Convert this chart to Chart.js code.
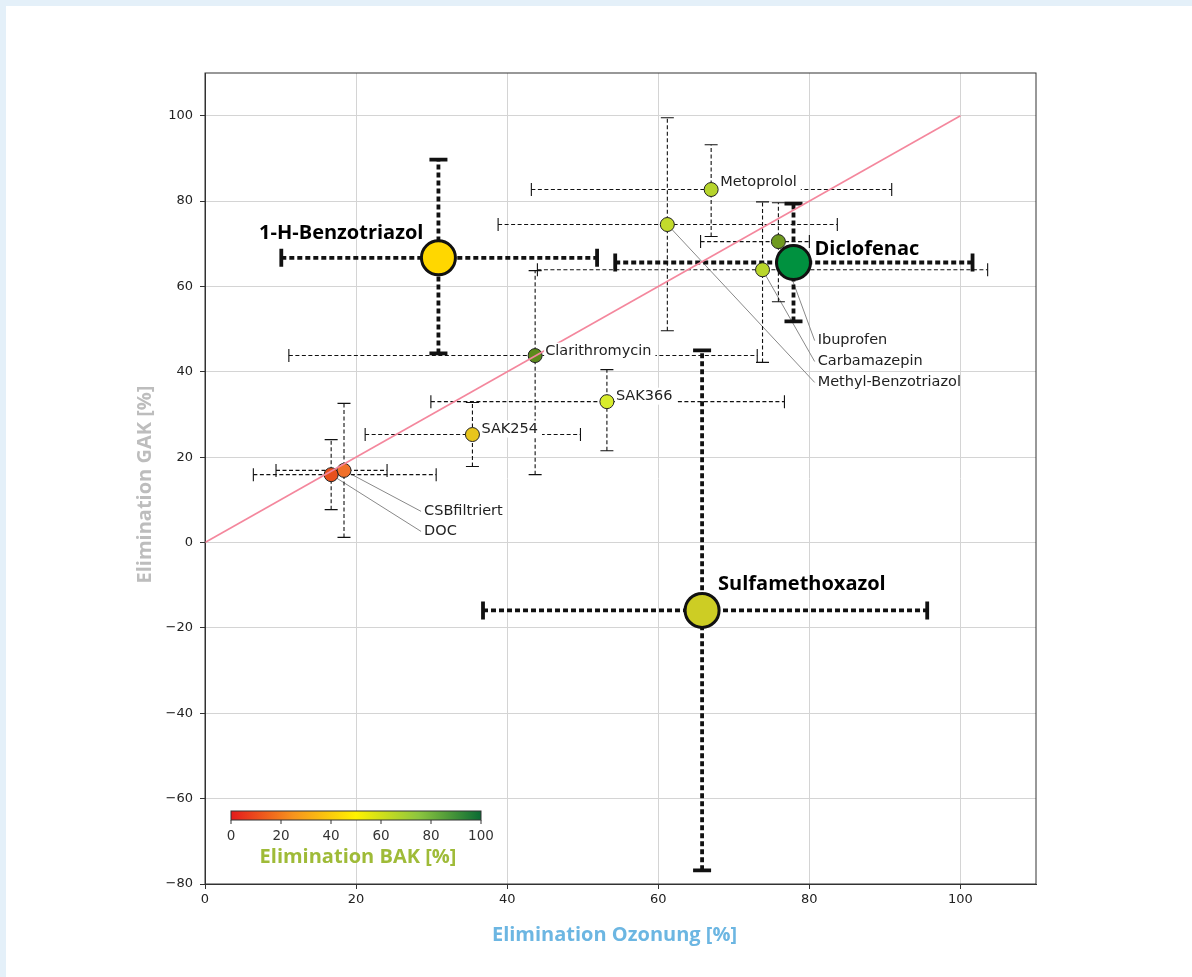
<!DOCTYPE html>
<html>
<head>
<meta charset="utf-8">
<script src="https://cdn.jsdelivr.net/npm/chart.js@4/dist/chart.umd.min.js"></script>
<style>
  body { margin: 0; background: #e4f0f9; }
  #panel { position: absolute; left: 6px; top: 6px; right: 0; bottom: 0; background: #fff; }
  #wrap { position: absolute; left: 0; top: 0; width: 1192px; height: 977px; }
</style>
</head>
<body>
<div id="panel"></div>
<div id="wrap"><canvas id="chart"></canvas></div>
<script>
// small substances (Ozonung x, GAK y, error ranges)
const names = ["Metoprolol", "Methyl-Benzotriazol", "Ibuprofen", "Carbamazepin", "Clarithromycin", "SAK366", "SAK254", "CSBfiltriert", "DOC"];
const ozon = [67.0, 61.2, 75.9, 73.8, 43.7, 53.2, 35.4, 18.4, 16.7];
const gak = [82.7, 74.5, 70.5, 63.9, 43.8, 33.0, 25.3, 16.9, 15.9];
const ozonLow = [43.2, 38.8, 65.6, 44.0, 11.1, 29.9, 21.2, 9.4, 6.4];
const ozonHigh = [90.9, 83.7, 80.0, 103.6, 73.1, 76.7, 49.7, 24.1, 30.6];
const gakLow = [71.7, 49.6, 56.4, 42.2, 15.9, 21.5, 17.8, 1.2, 7.7];
const gakHigh = [93.2, 99.5, 79.6, 79.8, 63.7, 40.5, 32.8, 32.6, 24.1];
const pointColors = ["#b6d42c", "#c2da2c", "#6f9a1f", "#b9d62a", "#5c8a1c", "#d8ec2c", "#e8c51c", "#f0702a", "#e8501c"];

// highlighted substances
const bigNames = ["1-H-Benzotriazol", "Diclofenac", "Sulfamethoxazol"];
const bigOzon = [30.9, 77.9, 65.8];
const bigGak = [66.7, 65.6, -15.9];
const bigOzonLow = [10.1, 54.3, 36.8];
const bigOzonHigh = [51.9, 101.6, 95.6];
const bigGakLow = [44.3, 51.8, -76.8];
const bigGakHigh = [89.7, 79.4, 45.0];
const bigColors = ["#ffd700", "#00913f", "#cdcd24"];

const xTicks = [0, 20, 40, 60, 80, 100];
const barTicks = [0, 20, 40, 60, 80, 100];

// label placement: pixel offsets for direct labels, data anchors for leader labels
const directLabels = { "Metoprolol": [9, -7], "Clarithromycin": [10, -4], "SAK366": [9, -5], "SAK254": [9, -5] };
const leaderLabels = {
  "Ibuprofen": [81.1, 47.3], "Carbamazepin": [81.1, 42.4], "Methyl-Benzotriazol": [81.1, 37.5],
  "CSBfiltriert": [29.0, 7.3], "DOC": [29.0, 2.6]
};
const bigLabelPos = [[-15, -25, "right"], [21, -13, "left"], [16, -26, "left"]];

function drawErrors(ctx, xs, ys, xl, xh, yl, yh, sx, sy, big) {
  ctx.save();
  ctx.strokeStyle = "#111";
  const cap = big ? 9 : 6.5;
  for (let i = 0; i < xs.length; i++) {
    const px = sx.getPixelForValue(xs[i]), py = sy.getPixelForValue(ys[i]);
    const x1 = sx.getPixelForValue(xl[i]), x2 = sx.getPixelForValue(xh[i]);
    const y1 = sy.getPixelForValue(yl[i]), y2 = sy.getPixelForValue(yh[i]);
    ctx.lineWidth = big ? 3.8 : 1.1;
    ctx.setLineDash(big ? [5, 3] : [4, 2.5]);
    ctx.beginPath();
    ctx.moveTo(x1, py); ctx.lineTo(x2, py);
    ctx.moveTo(px, y1); ctx.lineTo(px, y2);
    ctx.stroke();
    ctx.setLineDash([]);
    ctx.lineWidth = big ? 3.8 : 1.1;
    ctx.beginPath();
    ctx.moveTo(x1, py - cap); ctx.lineTo(x1, py + cap);
    ctx.moveTo(x2, py - cap); ctx.lineTo(x2, py + cap);
    ctx.moveTo(px - cap, y1); ctx.lineTo(px + cap, y1);
    ctx.moveTo(px - cap, y2); ctx.lineTo(px + cap, y2);
    ctx.stroke();
  }
  ctx.restore();
}

const extras = {
  id: "extras",
  beforeDatasetsDraw(chart) {
    const { ctx, scales: { x, y } } = chart;
    // leader lines
    ctx.save();
    ctx.strokeStyle = "#888";
    ctx.lineWidth = 1;
    names.forEach((n, i) => {
      if (!leaderLabels[n]) return;
      ctx.beginPath();
      ctx.moveTo(x.getPixelForValue(ozon[i]), y.getPixelForValue(gak[i]));
      ctx.lineTo(x.getPixelForValue(leaderLabels[n][0]) - 3, y.getPixelForValue(leaderLabels[n][1]));
      ctx.stroke();
    });
    ctx.restore();
    drawErrors(ctx, ozon, gak, ozonLow, ozonHigh, gakLow, gakHigh, x, y, false);
    drawErrors(ctx, bigOzon, bigGak, bigOzonLow, bigOzonHigh, bigGakLow, bigGakHigh, x, y, true);
  },
  afterDatasetsDraw(chart) {
    const { ctx, scales: { x, y }, chartArea: a } = chart;
    ctx.save();
    // small labels with white box
    ctx.font = "14.5px 'DejaVu Sans'";
    ctx.textBaseline = "middle";
    ctx.textAlign = "left";
    names.forEach((n, i) => {
      let tx, ty;
      if (directLabels[n]) {
        tx = x.getPixelForValue(ozon[i]) + directLabels[n][0];
        ty = y.getPixelForValue(gak[i]) + directLabels[n][1];
      } else {
        tx = x.getPixelForValue(leaderLabels[n][0]);
        ty = y.getPixelForValue(leaderLabels[n][1]);
      }
      if (directLabels[n]) {
        const w = ctx.measureText(n).width;
        ctx.fillStyle = "#fff";
        ctx.fillRect(tx - 1, ty - 9, w + 5, 17);
      }
      ctx.fillStyle = "#222";
      ctx.fillText(n, tx, ty);
    });
    // big labels
    ctx.font = "bold 20px 'Open Sans'";
    ctx.fillStyle = "#000";
    bigNames.forEach((n, i) => {
      ctx.textAlign = bigLabelPos[i][2];
      ctx.fillText(n, x.getPixelForValue(bigOzon[i]) + bigLabelPos[i][0], y.getPixelForValue(bigGak[i]) + bigLabelPos[i][1]);
    });
    // frame
    ctx.strokeStyle = "#333";
    ctx.lineWidth = 1;
    ctx.strokeRect(a.left, a.top, a.right - a.left, a.bottom - a.top);
    // colorbar
    const cl = a.left + 26, cw = 250, ct = a.bottom - 73, ch = 9;
    const g = ctx.createLinearGradient(cl, 0, cl + cw, 0);
    g.addColorStop(0, "#e41a1c");
    g.addColorStop(0.25, "#f7941d");
    g.addColorStop(0.5, "#fff200");
    g.addColorStop(0.75, "#8dc63f");
    g.addColorStop(1, "#0a6b34");
    ctx.fillStyle = g;
    ctx.fillRect(cl, ct, cw, ch);
    ctx.strokeRect(cl, ct, cw, ch);
    ctx.font = "13.5px 'DejaVu Sans'";
    ctx.fillStyle = "#333";
    ctx.textAlign = "center";
    barTicks.forEach(t => {
      const px = cl + cw * t / 100;
      ctx.beginPath(); ctx.moveTo(px, ct + ch); ctx.lineTo(px, ct + ch + 4); ctx.stroke();
      ctx.fillText(String(t), px, ct + ch + 16);
    });
    ctx.font = "bold 20px 'Open Sans'";
    ctx.fillStyle = "#9fbb38";
    ctx.fillText("Elimination BAK [%]", cl + 127, ct + 46);
    // axis titles
    ctx.fillStyle = "#6cb6e2";
    ctx.fillText("Elimination Ozonung [%]", (a.left + a.right) / 2 - 6, a.bottom + 51);
    ctx.translate(a.left - 60, (a.top + a.bottom) / 2 + 6);
    ctx.rotate(-Math.PI / 2);
    ctx.fillStyle = "#bdbdbd";
    ctx.fillText("Elimination GAK [%]", 0, 0);
    ctx.restore();
  }
};

const tickFont = { family: "DejaVu Sans", size: 13 };

new Chart(document.getElementById("chart"), {
  type: "scatter",
  data: {
    datasets: [
      {
        type: "line",
        data: [{ x: 0, y: 0 }, { x: 100, y: 100 }],
        borderColor: "#f4879d",
        borderWidth: 1.6,
        pointRadius: 0
      },
      {
        data: names.map((n, i) => ({ x: ozon[i], y: gak[i] })),
        pointRadius: 7,
        pointBackgroundColor: pointColors,
        pointBorderColor: "#222",
        pointBorderWidth: 1
      },
      {
        data: bigNames.map((n, i) => ({ x: bigOzon[i], y: bigGak[i] })),
        pointRadius: 17,
        pointBackgroundColor: bigColors,
        pointBorderColor: "#111",
        pointBorderWidth: 3
      }
    ]
  },
  options: {
    responsive: true,
    maintainAspectRatio: false,
    animation: false,
    layout: { padding: { left: 0, top: 73, right: 156, bottom: 0 } },
    plugins: { legend: { display: false }, tooltip: { enabled: false } },
    scales: {
      x: {
        type: "linear", min: 0, max: 110,
        afterFit: s => { s.height = 93; },
        afterBuildTicks: s => { s.ticks = xTicks.map(v => ({ value: v })); },
        ticks: { stepSize: 20, includeBounds: false, font: tickFont, color: "#222", padding: 3 },
        grid: { color: "#d4d4d4", tickColor: "#333", tickLength: 5 },
        border: { color: "#333" }
      },
      y: {
        min: -80, max: 110,
        afterFit: s => { s.width = 205; },
        ticks: { stepSize: 20, includeBounds: false, font: tickFont, color: "#222", padding: 7,
          callback: v => v < 0 ? "\u2212" + Math.abs(v) : v },
        grid: { color: "#d4d4d4", tickColor: "#333", tickLength: 5 },
        border: { color: "#333" }
      }
    }
  },
  plugins: [extras]
});
</script>
</body>
</html>
